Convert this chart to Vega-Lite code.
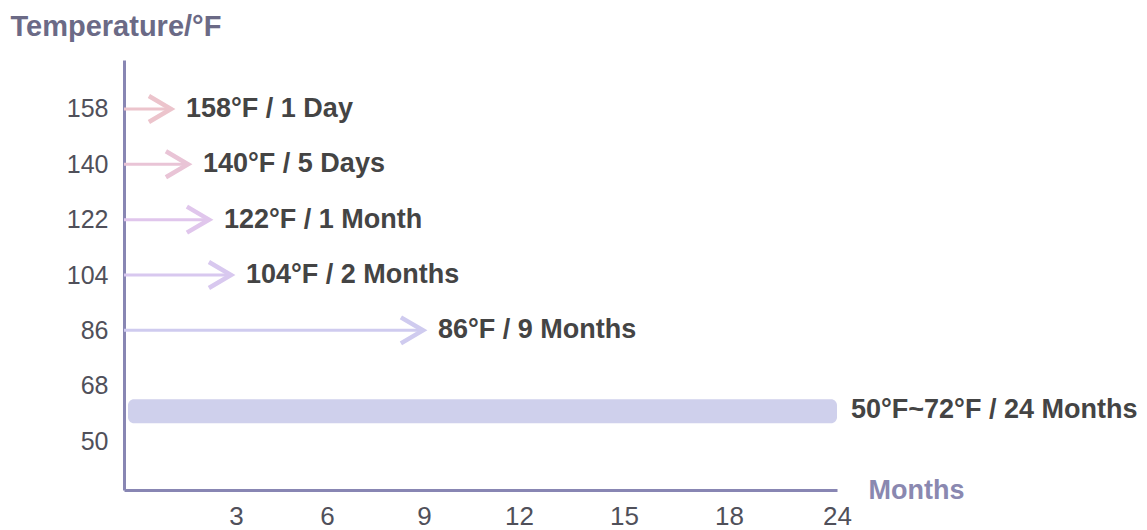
{
  "$schema": "https://vega.github.io/schema/vega-lite/v6.json",
  "width": 712,
  "height": 430,
  "autosize": {"type": "none"},
  "padding": {"left": 124, "top": 60, "right": 311, "bottom": 40},
  "background": "white",
  "data": {
    "values": [
      {"temp": 158, "months": 0.033, "label": "158°F / 1 Day", "kind": "arrow"},
      {"temp": 140, "months": 0.167, "label": "140°F / 5 Days", "kind": "arrow"},
      {"temp": 122, "months": 1, "label": "122°F / 1 Month", "kind": "arrow"},
      {"temp": 104, "months": 2, "label": "104°F / 2 Months", "kind": "arrow"},
      {"temp": 86, "months": 9, "label": "86°F / 9 Months", "kind": "arrow"},
      {"temp": 60, "months": 24, "label": "50°F~72°F / 24 Months", "kind": "range"}
    ]
  },
  "encoding": {
    "x": {
      "field": "months",
      "type": "quantitative",
      "scale": {"domain": [0, 0.033, 0.167, 1, 2, 3, 6, 9, 12, 15, 18, 24], "range": [0, 48, 65, 86, 108, 112, 203, 300, 395, 500, 605, 713]},
      "axis": {"values": [3, 6, 9, 12, 15, 18, 24], "title": "Months", "labelFlush": false, "labelOverlap": false}
    },
    "y": {
      "field": "temp",
      "type": "quantitative",
      "scale": {"domain": [35.7, 172.3], "nice": false, "zero": false},
      "axis": {
        "values": [50, 68, 86, 104, 122, 140, 158],
        "title": "Temperature/°F",
        "titleAngle": 0,
        "titleAlign": "left",
        "titleBaseline": "alphabetic",
        "titleX": -114,
        "titleY": -25,
        "titleFont": "Liberation Sans",
        "titleFontSize": 29,
        "titleFontWeight": "bold",
        "titleColor": "#6b6a86",
        "labelPadding": 16,
        "labelBaseline": "middle",
        "labelFlush": false,
        "labelOverlap": false
      }
    }
  },
  "layer": [
    {
      "transform": [{"filter": "datum.kind === 'range'"}],
      "mark": {"type": "bar", "height": 24, "cornerRadius": 6, "color": "#cfd0ec", "x2Offset": 4, "yOffset": 1},
      "encoding": {
        "x2": {"datum": 0}
      }
    },
    {
      "transform": [{"filter": "datum.kind === 'arrow'"}],
      "mark": {"type": "rule", "strokeWidth": 3},
      "encoding": {
        "x2": {"datum": 0},
        "color": {
          "field": "temp",
          "type": "nominal",
          "scale": {"domain": [158, 140, 122, 104, 86], "range": ["#ecc4cc", "#e9c4d6", "#e0c6ec", "#d8c8ef", "#cfcbef"]},
          "legend": null
        }
      }
    },
    {
      "transform": [{"filter": "datum.kind === 'arrow'"}],
      "mark": {
        "type": "point",
        "shape": "M -0.7 -1 L 1 0 L -0.7 1",
        "filled": false,
        "size": 676,
        "strokeWidth": 4.5,
        "strokeJoin": "miter",
        "opacity": 1,
        "xOffset": -14
      },
      "encoding": {
        "color": {
          "field": "temp",
          "type": "nominal",
          "scale": {"domain": [158, 140, 122, 104, 86], "range": ["#ecc4cc", "#e9c4d6", "#e0c6ec", "#d8c8ef", "#cfcbef"]},
          "legend": null
        }
      }
    },
    {
      "mark": {
        "type": "text",
        "align": "left",
        "baseline": "middle",
        "dx": 14,
        "font": "Liberation Sans",
        "fontSize": 27,
        "fontWeight": "bold",
        "color": "#444444"
      },
      "encoding": {
        "text": {"field": "label"}
      }
    }
  ],
  "config": {
    "view": {"stroke": null},
    "axis": {
      "domainColor": "#8886b3",
      "domainWidth": 3,
      "ticks": false,
      "grid": false,
      "labelFont": "Liberation Sans",
      "labelFontSize": 25,
      "labelColor": "#50505a"
    },
    "axisX": {
      "labelPadding": 13,
      "labelFontSize": 26,
      "titleAlign": "left",
      "titleBaseline": "alphabetic",
      "titleAnchor": "start",
      "titleX": 744,
      "titleY": 8,
      "titleFont": "Liberation Sans",
      "titleFontSize": 27,
      "titleFontWeight": "bold",
      "titleColor": "#8a88b0"
    }
  }
}
